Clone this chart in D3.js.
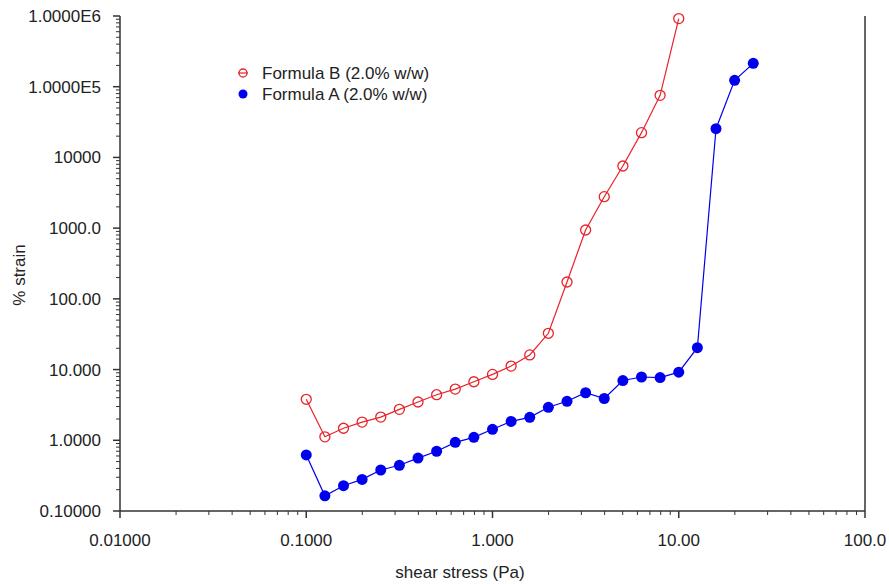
<!DOCTYPE html>
<html>
<head>
<meta charset="utf-8">
<script src="https://cdn.jsdelivr.net/npm/d3@7"></script>
<style>
  body { margin: 0; background: #fff; }
  text { font-family: "Liberation Sans", Arial, sans-serif; fill: #222; }
</style>
</head>
<body>
<div id="graph"></div>
<script>
var stress = [0.1, 0.1259, 0.1585, 0.1995, 0.2512, 0.3162, 0.3981, 0.5012, 0.631, 0.7943,
  1.0, 1.259, 1.585, 1.995, 2.512, 3.162, 3.981, 5.012, 6.31, 7.943, 10.0, 12.59, 15.85, 19.95, 25.12];
var formulaB = [3.8, 1.12, 1.48, 1.81, 2.13, 2.74, 3.48, 4.41, 5.3, 6.73, 8.55, 11.2, 16.1, 32.6,
  173, 942, 2785, 7570, 22400, 75500, 920000];
var formulaA = [0.62, 0.164, 0.228, 0.28, 0.38, 0.443, 0.56, 0.70, 0.935, 1.10, 1.43, 1.85, 2.11, 2.93,
  3.56, 4.7, 3.9, 7.0, 7.85, 7.7, 9.2, 20.4, 25500, 123000, 214000];
var xTicks = [0.01, 0.1, 1, 10, 100];
var xTickLabels = ["0.01000", "0.1000", "1.000", "10.00", "100.0"];
var yTicks = [0.1, 1, 10, 100, 1000, 10000, 100000, 1000000];
var yTickLabels = ["0.10000", "1.0000", "10.000", "100.00", "1000.0", "10000", "1.0000E5", "1.0000E6"];
var seriesNames = ["Formula B (2.0% w/w)", "Formula A (2.0% w/w)"];

var width = 889, height = 584;
var mLeft = 120, mRight = 865, mTop = 16, mBottom = 511;
var axisColor = "#333";
var red = "#e8232a", blue = "#0000ee";

var svg = d3.select("#graph").append("svg")
  .attr("width", width)
  .attr("height", height);

var x = d3.scaleLog().domain([0.01, 100]).range([mLeft, mRight]);
var y = d3.scaleLog().domain([0.1, 1000000]).range([mBottom, mTop]);

// minor ticks (2..9 in each decade)
function minors(lo, hi) {
  var out = [];
  for (var d = lo; d < hi * 0.99; d *= 10) {
    for (var k = 2; k <= 9; k++) out.push(d * k);
  }
  return out;
}

// x axis
var xAxis = svg.append("g").attr("transform", "translate(0," + mBottom + ")");
xAxis.append("line").attr("x1", mLeft).attr("x2", mRight)
  .attr("stroke", axisColor).attr("stroke-width", 1.5);
xAxis.selectAll(".minor").data(minors(0.01, 100)).enter().append("line")
  .attr("x1", d => x(d)).attr("x2", d => x(d))
  .attr("y1", 0).attr("y2", 4)
  .attr("stroke", axisColor);
xAxis.selectAll(".major").data(xTicks).enter().append("line")
  .attr("x1", d => x(d)).attr("x2", d => x(d))
  .attr("y1", 0).attr("y2", 7)
  .attr("stroke", axisColor).attr("stroke-width", 1.5);
xAxis.selectAll(".lab").data(xTicks).enter().append("text")
  .attr("x", d => x(d)).attr("y", 35)
  .attr("text-anchor", "middle")
  .attr("font-size", 17)
  .text((d, i) => xTickLabels[i]);

// y axis
var yAxis = svg.append("g").attr("transform", "translate(" + mLeft + ",0)");
yAxis.append("line").attr("y1", mTop).attr("y2", mBottom)
  .attr("stroke", axisColor).attr("stroke-width", 1.5);
yAxis.selectAll(".minor").data(minors(0.1, 1000000)).enter().append("line")
  .attr("y1", d => y(d)).attr("y2", d => y(d))
  .attr("x1", 0).attr("x2", -4)
  .attr("stroke", axisColor);
yAxis.selectAll(".major").data(yTicks).enter().append("line")
  .attr("y1", d => y(d)).attr("y2", d => y(d))
  .attr("x1", 0).attr("x2", -7)
  .attr("stroke", axisColor).attr("stroke-width", 1.5);
yAxis.selectAll(".lab").data(yTicks).enter().append("text")
  .attr("x", -19).attr("y", d => y(d) + 6)
  .attr("text-anchor", "end")
  .attr("font-size", 17)
  .text((d, i) => yTickLabels[i]);

// right frame line
svg.append("line").attr("x1", mRight).attr("x2", mRight)
  .attr("y1", mTop).attr("y2", mBottom)
  .attr("stroke", axisColor).attr("stroke-width", 1.5);

// axis titles
svg.append("text").attr("x", 460).attr("y", 578)
  .attr("text-anchor", "middle").attr("font-size", 17)
  .text("shear stress (Pa)");
svg.append("text")
  .attr("transform", "translate(25,275) rotate(-90)")
  .attr("text-anchor", "middle").attr("font-size", 17)
  .text("% strain");

var line = d3.line().x(d => x(d[0])).y(d => y(d[1]));

var dataB = formulaB.map((v, i) => [stress[i], v]);
var dataA = formulaA.map((v, i) => [stress[i], v]);

svg.append("path").datum(dataB).attr("d", line)
  .attr("fill", "none").attr("stroke", red).attr("stroke-width", 1.2);
svg.selectAll(".ptB").data(dataB).enter().append("circle")
  .attr("cx", d => x(d[0])).attr("cy", d => y(d[1])).attr("r", 5)
  .attr("fill", "none").attr("stroke", red).attr("stroke-width", 1.3);

svg.append("path").datum(dataA).attr("d", line)
  .attr("fill", "none").attr("stroke", blue).attr("stroke-width", 1.2);
svg.selectAll(".ptA").data(dataA).enter().append("circle")
  .attr("cx", d => x(d[0])).attr("cy", d => y(d[1])).attr("r", 5.5)
  .attr("fill", blue);

// legend
var legend = svg.append("g").attr("transform", "translate(243,73)");
legend.append("line").attr("x1", -5).attr("x2", 5).attr("stroke", red).attr("stroke-width", 1.2);
legend.append("circle").attr("r", 4).attr("fill", "none").attr("stroke", red).attr("stroke-width", 1.3);
legend.append("text").attr("x", 19).attr("y", 6).attr("font-size", 17).text(seriesNames[0]);
legend.append("circle").attr("cy", 21).attr("r", 4.5).attr("fill", blue);
legend.append("text").attr("x", 19).attr("y", 27).attr("font-size", 17).text(seriesNames[1]);
</script>
</body>
</html>
